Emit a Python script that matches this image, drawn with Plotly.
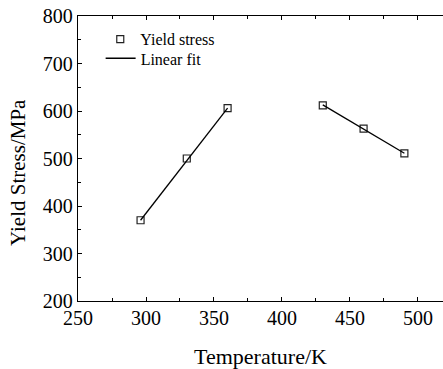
import plotly.graph_objects as go

# Data
temps = [296, 330, 360, 430, 460, 490]
stress = [370, 500, 606, 612, 563, 511]

fit1_x = [296, 360]
fit1_y = [370, 606]
fit2_x = [430, 490]
fit2_y = [613, 511]

x_ticks = [250, 300, 350, 400, 450, 500]
y_ticks = [200, 300, 400, 500, 600, 700, 800]

FONT = "'Liberation Serif', 'Times New Roman', Times, serif"

fig = go.Figure()
fig.add_trace(go.Scatter(
    x=temps, y=stress, mode="markers", name="Yield stress", legend="legend",
    marker=dict(symbol="square-open", size=7, color="#222222", line=dict(width=1.2)),
))
fig.add_trace(go.Scatter(
    x=fit1_x, y=fit1_y, mode="lines", name="Linear fit", legend="legend2",
    line=dict(color="black", width=1.3),
))
fig.add_trace(go.Scatter(
    x=fit2_x, y=fit2_y, mode="lines", name="Linear fit", showlegend=False,
    legend="legend2",
    line=dict(color="black", width=1.3),
))

legend_common = dict(xanchor="left", yanchor="top", bgcolor="rgba(0,0,0,0)",
                     font=dict(family=FONT, size=16), itemwidth=30)

fig.update_layout(
    width=443, height=369,
    margin=dict(l=78, r=0, t=16, b=68),
    plot_bgcolor="white", paper_bgcolor="white",
    font=dict(family=FONT, color="black", size=20),
    showlegend=True,
    legend=dict(x=0.061, y=0.978, **legend_common),
    legend2=dict(x=0.062, y=0.911, **legend_common),
    xaxis=dict(
        range=[250, 518.4], tickvals=x_ticks, showgrid=False, zeroline=False,
        showline=True, linecolor="black", linewidth=1.3, mirror="ticks",
        ticks="inside", ticklen=4, tickcolor="black", tickwidth=1,
        minor=dict(ticks="inside", ticklen=3, dtick=25, tick0=250, tickcolor="black", showgrid=False),
        tickfont=dict(family=FONT, size=20),
        ticklabelstandoff=-1,
        title=dict(text="Temperature/K", font=dict(family=FONT, size=22), standoff=21),
    ),
    yaxis=dict(
        range=[200, 800], tickvals=y_ticks, showgrid=False, zeroline=False,
        showline=True, linecolor="black", linewidth=1.3,
        ticks="inside", ticklen=4, tickcolor="black", tickwidth=1,
        minor=dict(ticks="inside", ticklen=3, dtick=50, tick0=200, tickcolor="black", showgrid=False),
        tickfont=dict(family=FONT, size=20),
        ticklabelstandoff=0,
    ),
    annotations=[dict(
        text="Yield Stress/MPa", textangle=-90, xref="paper", yref="paper",
        x=-78/365 + 18/365, y=(301 - 172) / 285, xanchor="center", yanchor="middle",
        showarrow=False, font=dict(family=FONT, size=21),
    )],
)

fig.write_html("out.html")
